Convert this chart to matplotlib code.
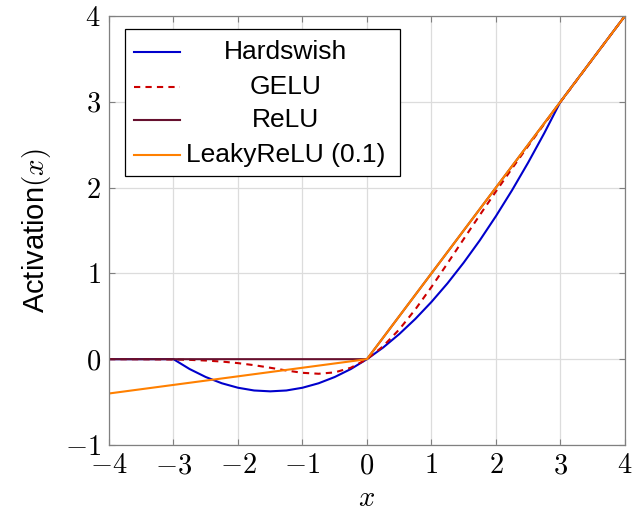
#!/usr/bin/env python3
"""activation functions: Hardswish / GELU / ReLU / LeakyReLU"""
import matplotlib
matplotlib.use("Agg")
import matplotlib.pyplot as plt
from matplotlib.patches import Rectangle
from matplotlib.lines import Line2D

plt.rcParams["font.family"] = ["Liberation Sans", "DejaVu Sans"]
plt.rcParams["mathtext.fontset"] = "cm"

# values
hs_x = [-4, -3, -2.75, -2.5, -2.25, -2, -1.75, -1.5, -1.25, -1, -0.75, -0.5, -0.25,
        0, 0.25, 0.5, 0.75, 1, 1.25, 1.5, 1.75, 2, 2.25, 2.5, 2.75, 3, 4]
hs_y = [0, 0, -0.115, -0.208, -0.281, -0.333, -0.365, -0.375, -0.365, -0.333, -0.281, -0.208, -0.115,
        0, 0.135, 0.292, 0.469, 0.667, 0.885, 1.125, 1.385, 1.667, 1.969, 2.292, 2.635, 3.0, 4.0]

gelu_x = [-4, -3.5, -3, -2.75, -2.5, -2.25, -2, -1.75, -1.5, -1.25, -1, -0.75, -0.5, -0.25,
          0, 0.25, 0.5, 0.75, 1, 1.25, 1.5, 1.75, 2, 2.25, 2.5, 2.75, 3, 3.5, 4]
gelu_y = [0.0, -0.001, -0.004, -0.008, -0.016, -0.028, -0.046, -0.070, -0.100, -0.132, -0.159, -0.170, -0.154, -0.100,
          0, 0.150, 0.346, 0.580, 0.841, 1.118, 1.400, 1.680, 1.955, 2.223, 2.485, 2.742, 2.996, 3.499, 4.0]

relu_x = [-4, 0, 4]
relu_y = [0, 0, 4]

leaky_x = [-4, 0, 4]
leaky_y = [-0.4, 0, 4]

labels = ["Hardswish", "GELU", "ReLU", "LeakyReLU (0.1)"]
xticks = [-4, -3, -2, -1, 0, 1, 2, 3, 4]
yticks = [-1, 0, 1, 2, 3, 4]

c_blue = "#0000cc"
c_red = "#cc0000"
c_relu = "#66102e"
c_orange = "#ff8000"


def main():
    fig = plt.figure(figsize=(6.33, 5.15), dpi=100)
    ax = fig.add_axes([0.1722, 0.1360, 0.8150, 0.8329])

    dash = (0, (3, 2.5))
    ax.plot(hs_x, hs_y, color=c_blue, lw=1.5)
    ax.plot(gelu_x, gelu_y, color=c_red, lw=1.5, ls=dash)
    ax.plot(relu_x, relu_y, color=c_relu, lw=1.5)
    ax.plot(leaky_x, leaky_y, color=c_orange, lw=1.5)

    ax.set_xlim(-4, 4)
    ax.set_ylim(-1, 4)
    ax.set_xticks(xticks)
    ax.set_yticks(yticks)
    ax.set_xticklabels([f"${t}$" for t in xticks])
    ax.set_yticklabels([f"${t}$" for t in yticks])
    ax.tick_params(direction="in", length=4, width=0.8, color="#808080",
                   labelsize=20.5, top=True, right=True)
    ax.tick_params(axis="x", pad=6)
    ax.tick_params(axis="y", pad=6)
    for s in ax.spines.values():
        s.set_color("#808080")
        s.set_linewidth(0.9)
    ax.grid(True, color="#dcdcdc", lw=0.9)
    ax.set_axisbelow(True)

    ax.set_xlabel("$x$", fontsize=20.5, labelpad=5)
    ax.set_ylabel("Activation$(x)$", fontsize=21, labelpad=8)

    # legend (pgfplots style, centered labels)
    ax.add_patch(Rectangle((0.0319, 0.6263), 0.5318, 0.3427, transform=ax.transAxes,
                           facecolor="white", edgecolor="black", lw=0.9, zorder=5))
    rows = [0.9163, 0.8356, 0.7581, 0.6767]
    styles = [(c_blue, "-"), (c_red, dash), (c_relu, "-"), (c_orange, "-")]
    for lab, yy, (c, ls) in zip(labels, rows, styles):
        ax.add_line(Line2D([0.0483, 0.137], [yy, yy], transform=ax.transAxes,
                           color=c, ls=ls, lw=1.5, zorder=6))
        ax.text(0.3417, yy, lab, transform=ax.transAxes, ha="center", va="center",
                fontsize=19, zorder=6)

    fig.savefig("out.png", dpi=100)


if __name__ == "__main__":
    main()
